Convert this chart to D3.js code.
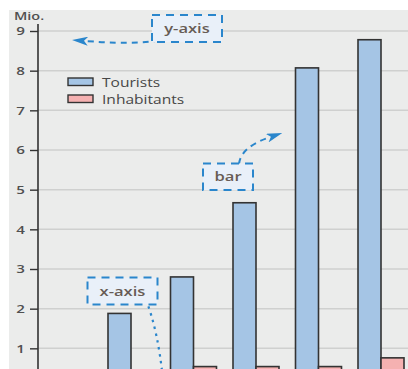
<!DOCTYPE html>
<html>
<head>
<meta charset="utf-8">
<script src="https://cdn.jsdelivr.net/npm/d3@7"></script>
<style>
  html, body { margin: 0; padding: 0; background: #fff; }
  svg { display: block; }
  text { font-family: "Open Sans", "DejaVu Sans", sans-serif; }
</style>
</head>
<body>
<div id="chart"></div>
<script>
// Tourists and inhabitants (millions) per period
const categories = ["A", "B", "C", "D", "E"];
const seriesNames = ["Tourists", "Inhabitants"];
const tourists = [1.88, 2.80, 4.67, 8.07, 8.78];
const inhabitants = [0.40, 0.54, 0.54, 0.54, 0.76];
const yTicks = [1, 2, 3, 4, 5, 6, 7, 8, 9];
const yUnit = "Mio.";

const W = 408, H = 369;
const colors = { Tourists: "#a5c5e5", Inhabitants: "#f5b1b1" };
const TX = 1.32; // horizontal text stretch

const svg = d3.select("#chart").append("svg")
  .attr("width", W).attr("height", H);

const defs = svg.append("defs");
defs.append("marker")
  .attr("id", "head")
  .attr("viewBox", "0 0 16 9")
  .attr("refX", 2).attr("refY", 4.5)
  .attr("markerWidth", 16).attr("markerHeight", 9)
  .attr("markerUnits", "userSpaceOnUse")
  .attr("orient", "auto")
  .append("path").attr("d", "M0,0 L16,4.5 L0,9 L4,4.5 Z").attr("fill", "#2a86cc");

// panel background
svg.append("rect").attr("x", 9).attr("y", 10).attr("width", W - 9).attr("height", H - 10)
  .attr("fill", "#ebeceb");

const y = d3.scaleLinear().domain([0, 9]).range([388, 31]);
const axisX = 38;

const x0 = d3.scaleBand().domain(categories).range([99.75, 412.25])
  .paddingInner(0.264).paddingOuter(0.132);
const x1 = d3.scaleBand().domain(seriesNames).range([0, x0.bandwidth()]);

// grid lines
svg.append("g").selectAll("line").data(yTicks).join("line")
  .attr("x1", axisX).attr("x2", W)
  .attr("y1", d => y(d)).attr("y2", d => y(d))
  .attr("stroke", "#cfd0cf").attr("stroke-width", 1.5);

// y axis
const yAxis = svg.append("g").attr("transform", `translate(${axisX},0)`)
  .call(d3.axisLeft(y).tickValues(yTicks).tickSize(8).tickPadding(5).tickFormat(d3.format("d")));
yAxis.select(".domain").remove();
yAxis.selectAll(".tick line").attr("stroke", "#333").attr("stroke-width", 1.4);
yAxis.selectAll(".tick text")
  .attr("fill", "#505050").attr("font-size", 11.5).attr("font-weight", 600)
  .attr("transform", function () {
    const xx = +d3.select(this).attr("x");
    return `translate(${xx * (1 - TX)},0) scale(${TX},1)`;
  });
svg.append("line").attr("x1", axisX).attr("x2", axisX).attr("y1", 24).attr("y2", H)
  .attr("stroke", "#333").attr("stroke-width", 1.6);

svg.append("text").attr("transform", `translate(14,20) scale(${TX + 0.06},1)`)
  .attr("fill", "#505050").attr("font-size", 10.5).attr("font-weight", 600).text(yUnit);

// bars
const rows = categories.map((c, i) => ({ c, Tourists: tourists[i], Inhabitants: inhabitants[i] }));
const groups = svg.append("g").selectAll("g").data(rows).join("g")
  .attr("transform", d => `translate(${x0(d.c)},0)`);
groups.selectAll("rect").data(d => seriesNames.map(k => ({ k, v: d[k] }))).join("rect")
  .attr("x", d => x1(d.k)).attr("width", x1.bandwidth())
  .attr("y", d => y(d.v)).attr("height", d => y(0) - y(d.v))
  .attr("fill", d => colors[d.k]).attr("stroke", "#333").attr("stroke-width", 1.6);

// legend
const legend = svg.append("g").attr("transform", "translate(68,78)");
seriesNames.forEach((k, i) => {
  const g = legend.append("g").attr("transform", `translate(0,${i * 17})`);
  g.append("rect").attr("width", 25).attr("height", 7.5)
    .attr("fill", colors[k]).attr("stroke", "#333").attr("stroke-width", 1.4);
  g.append("text").attr("transform", `translate(34,8.5) scale(${TX},1)`)
    .attr("fill", "#474747").attr("font-size", 11.8).text(k);
});

// annotations
const blue = "#2a86cc";
const notes = [
  { label: "y-axis", x: 152, y: 15, w: 70, h: 27 },
  { label: "bar", x: 203, y: 163.5, w: 50, h: 26.5 },
  { label: "x-axis", x: 87.5, y: 277.5, w: 70, h: 27 }
];
const ann = svg.append("g");
ann.append("path").attr("d", "M170,37 Q150,46 86,41")
  .attr("fill", "none").attr("stroke", blue).attr("stroke-width", 2)
  .attr("stroke-dasharray", "6,5").attr("marker-end", "url(#head)");
ann.append("path").attr("d", "M239,164 Q241,147 269,137.5")
  .attr("fill", "none").attr("stroke", blue).attr("stroke-width", 2)
  .attr("stroke-dasharray", "6,5").attr("marker-end", "url(#head)");
ann.append("path").attr("d", "M146,300 Q158,330 163,380")
  .attr("fill", "none").attr("stroke", blue).attr("stroke-width", 2.2)
  .attr("stroke-dasharray", "2.5,4.5");
notes.forEach(n => {
  ann.append("rect").attr("x", n.x).attr("y", n.y).attr("width", n.w).attr("height", n.h)
    .attr("fill", "#e9f0f9").attr("stroke", blue).attr("stroke-width", 2)
    .attr("stroke-dasharray", "8,6");
  ann.append("text")
    .attr("transform", `translate(${n.x + n.w / 2},${n.y + n.h / 2 + 4.5}) scale(1.38,1)`)
    .attr("text-anchor", "middle").attr("fill", "#675c55")
    .attr("font-size", 12).attr("font-weight", 600).text(n.label);
});
</script>
</body>
</html>
